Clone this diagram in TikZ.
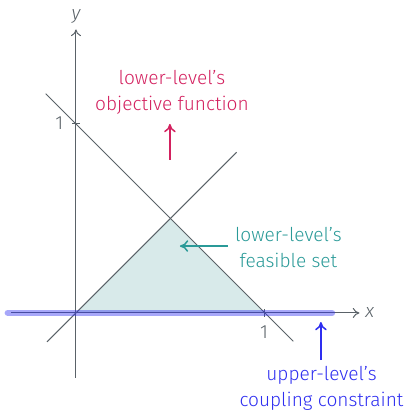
\documentclass[tikz,border=0pt]{standalone}
\usepackage{fontspec}
\setmainfont{Fira Sans}[UprightFont={* Light}, ItalicFont={* Light Italic}]
\usetikzlibrary{arrows.meta}
\definecolor{blGray}{HTML}{5A6268}
\definecolor{blFill}{HTML}{D8EAEA}
\definecolor{blRed}{HTML}{D3215F}
\definecolor{blTeal}{HTML}{2A9A98}
\definecolor{blBlue}{HTML}{2E2EF0}
\tikzset{
  bl axis/.style={draw=blGray, line width=0.6pt, -{To[length=4pt,width=6pt]}},
  bl line/.style={draw=blGray, line width=0.6pt},
  bl tick/.style={draw=blGray, line width=0.6pt},
  bl note/.style={font=\fontsize{11.5}{16}\selectfont, align=center},
  bl pointer/.style={-{To[length=5pt,width=7pt]}, line width=0.9pt},
  bl num/.style={font=\fontsize{11.5}{14}\selectfont, text=blGray},
}
\begin{document}
\begin{tikzpicture}[x=4cm,y=4cm]
  \useasboundingbox (-0.402,-0.524) rectangle (1.762,1.656);
  % feasible set
  \fill[blFill] (0,0) -- (1,0) -- (0.5,0.5) -- cycle;
  \draw[bl line] (-0.16,1.16) -- (1.15,-0.15);
  \draw[bl line] (-0.153,-0.153) -- (0.85,0.85);
  % axes
  \draw[bl axis] (0,-0.344) -- (0,1.5) node[bl num, above, font=\fontsize{11.5}{14}\selectfont\itshape] (ylab) {y};
  \draw[bl axis] (-0.344,0) -- (1.5,0) node[bl num, right, font=\fontsize{11.5}{14}\selectfont\itshape] (xlab) {x};
  \draw[bl tick] (1,-0.02) -- (1,0.02);
  \draw[bl tick] (-0.02,1) -- (0.02,1);
  \node[bl num] (xone) at (0.995,-0.1) {1};
  \node[bl num] (yone) at (-0.088,1.005) {1};
  % coupling constraint
  \draw[blBlue, opacity=0.42, line width=4pt, line cap=round] (-0.36,0) -- (1.354,0);
  % notes
  \node[bl note, text=blRed] (objective) at (0.508,1.167) {lower-level’s\\objective function};
  \coordinate (objtail) at (0.497,0.81);
  \coordinate (objtip) at (0.497,1.0);
  \draw[bl pointer, blRed] (objtail) -- (objtip);
  \node[bl note, text=blTeal] (feasible) at (1.124,0.347) {lower-level’s\\feasible set};
  \coordinate (feastail) at (0.804,0.354);
  \coordinate (feastip) at (0.55,0.354);
  \draw[bl pointer, blTeal] (feastail) -- (feastip);
  \node[bl note, text=blBlue] (coupling) at (1.299,-0.4) {upper-level’s\\coupling constraint};
  \coordinate (coutail) at (1.296,-0.249);
  \coordinate (coutip) at (1.296,-0.048);
  \draw[bl pointer, blBlue] (coutail) -- (coutip);
\end{tikzpicture}
\end{document}
